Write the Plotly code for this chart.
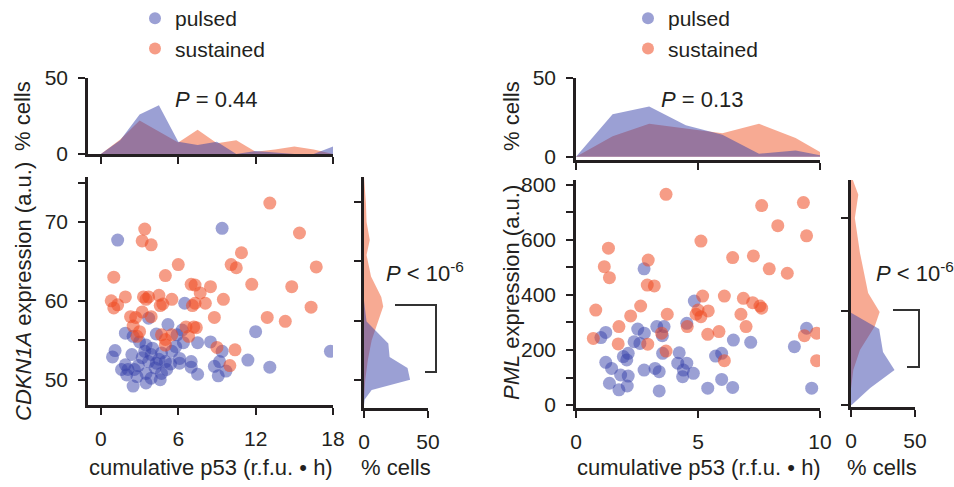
import plotly.graph_objects as go

W, H = 954, 487

# ---------------- data: left panel (CDKN1A) ----------------
left_pulsed_x = [1.3, 9.4, 6.5, 12.0, 17.8, 11.4, 13.1, 9.4, 9.2, 8.8, 9.1, 9.7, 8.5, 7.5, 7.0, 7.0, 7.5,
                 6.1, 6.1, 6.4, 6.3, 5.2, 1.9, 1.1, 0.9, 2.5, 4.3, 3.7, 3.0, 3.5, 2.4, 3.4, 3.9, 4.7, 5.5,
                 3.7, 4.3, 5.0, 1.9, 1.6, 2.1, 2.6, 2.0, 2.8, 3.5, 4.2, 4.7, 5.1, 2.5, 3.5, 4.6, 5.9, 4.0,
                 3.2, 4.5, 2.9, 3.9, 5.4, 5.8]
left_pulsed_y = [67.7, 69.2, 59.7, 56.1, 53.6, 52.5, 51.6, 53.6, 52.3, 51.7, 50.5, 51.1, 54.8, 54.7, 52.3,
                 51.6, 50.7, 52.1, 52.7, 54.7, 56.3, 57.0, 55.9, 53.7, 52.9, 55.5, 55.8, 57.8, 54.8, 54.4,
                 53.2, 53.6, 53.2, 53.4, 53.6, 52.3, 52.1, 52.3, 51.9, 51.3, 51.3, 51.3, 50.6, 50.4, 50.8,
                 51.5, 50.8, 51.3, 49.2, 49.6, 50.0, 55.7, 54.0, 52.8, 52.6, 51.8, 50.2, 52.0, 54.2]
left_sustained_x = [13.1, 15.4, 16.7, 10.9, 10.1, 10.5, 11.7, 14.8, 16.3, 12.9, 14.3, 3.4, 3.2, 3.9, 1.0,
                    6.0, 5.0, 0.8, 1.0, 1.3, 1.9, 3.3, 3.7, 3.5, 4.5, 4.6, 4.8, 5.5, 7.0, 7.3, 7.7, 8.5,
                    9.5, 7.1, 7.3, 8.1, 8.8, 2.3, 2.7, 3.2, 3.9, 2.5, 3.0, 2.8, 4.7, 5.0, 5.0, 5.5, 6.6,
                    7.2, 7.4, 6.8, 9.0, 10.4, 10.0]
left_sustained_y = [72.4, 68.6, 64.3, 66.1, 64.6, 64.2, 62.1, 61.8, 59.2, 57.9, 57.4, 69.1, 67.6, 67.1,
                    63.0, 64.6, 63.2, 60.0, 59.1, 59.5, 60.5, 60.5, 60.5, 60.2, 60.7, 59.4, 59.6, 60.2,
                    62.1, 62.0, 61.0, 61.8, 60.2, 59.4, 59.7, 59.7, 57.9, 58.0, 57.9, 58.6, 58.0, 56.8,
                    56.1, 55.5, 55.7, 55.1, 54.4, 55.7, 56.7, 56.7, 56.6, 55.5, 54.1, 53.8, 51.8]

# top histogram (% cells vs cumulative p53)
left_top_bins = [0, 1.5, 3, 4.5, 6, 7.5, 9, 10.5, 12, 13.5, 15, 16.5, 18]
left_top_pulsed = [0, 9, 26, 32, 8, 6, 8, 0, 2, 1, 0, 0, 5]
left_top_sustained = [0, 9.5, 22, 15, 7.5, 16, 7, 9, 1.5, 3, 5, 3, 0]

# side histogram (% cells vs CDKN1A)
left_side_sustained_level = [75.7, 74.9, 72.4, 70.0, 67.7, 65.8, 63.1, 60.5, 59.3, 57.4, 55.0, 52.5, 50.0, 47.5]
left_side_sustained_pct = [0, 0.5, 1.5, 2, 4.5, 2, 5.5, 13.5, 15, 11, 6, 3, 1, 0]
left_side_pulsed_level = [60.0, 57.4, 54.6, 52.9, 51.5, 50.0, 48.7, 47.5, 46.8]
left_side_pulsed_pct = [0, 2, 19, 20, 34, 36, 6, 0.5, 0]

# ---------------- data: right panel (PML) ----------------
right_pulsed_x = [2.79, 4.85, 4.54, 9.45, 8.95, 6.45, 7.16, 5.72, 5.97, 5.97, 6.42, 5.40, 9.66, 1.02, 1.22,
                  2.53, 2.80, 2.38, 2.62, 3.31, 3.61, 3.54, 4.23, 4.17, 4.54, 4.40, 4.37, 4.81, 1.22, 1.46,
                  1.37, 1.76, 2.10, 1.83, 2.14, 1.94, 2.14, 2.08, 2.79, 3.24, 3.41, 3.41, 3.55]
right_pulsed_y = [495, 378, 297, 279, 212, 236, 228, 178, 188, 93, 64, 61, 61, 245, 264,
                  276, 261, 230, 224, 285, 285, 252, 190, 152, 152, 127, 103, 115, 155, 133,
                  79, 55, 69, 109, 105, 176, 188, 164, 127, 133, 121, 51, 188]
right_sustained_x = [3.69, 7.61, 9.32, 8.27, 9.45, 5.12, 1.33, 1.16, 1.37, 2.96, 6.42, 7.27, 7.92, 8.66,
                     2.92, 3.21, 0.81, 2.65, 2.24, 3.74, 1.76, 0.71, 1.73, 2.94, 3.51, 3.69, 5.19, 6.08,
                     6.86, 7.24, 7.54, 7.61, 4.92, 5.12, 5.42, 5.00, 6.76, 6.97, 4.56, 5.40, 5.86, 6.08,
                     9.36, 9.86, 9.86]
right_sustained_y = [766, 725, 736, 652, 615, 596, 570, 503, 463, 527, 536, 542, 495, 479,
                     436, 433, 345, 360, 324, 330, 285, 242, 222, 221, 261, 196, 396, 396,
                     388, 372, 360, 352, 330, 321, 342, 345, 330, 285, 285, 257, 267, 161,
                     252, 261, 161]

right_top_bins = [0, 1.5, 3, 4.5, 6, 7.5, 9, 10]
right_top_pulsed = [0, 27, 32, 20, 14, 2, 4, 1]
right_top_sustained = [0, 13, 21, 18, 15, 21, 12, 3]

right_side_sustained_level = [836, 764, 680, 553, 407, 338, 285, 200, 127, 60]
right_side_sustained_pct = [0, 5.7, 3, 7, 13.4, 22.4, 18.5, 7, 1.8, 0]
right_side_pulsed_level = [335, 276, 193, 127, 62, 0]
right_side_pulsed_pct = [0, 22, 25, 34, 15, 0.5]

# tick settings
left_x_ticks = [0, 6, 12, 18]
left_y_major = [50, 60, 70]
left_y_minor = [55, 65, 75]
left_side_y_ticks = [50, 57.5, 65, 72.5]
right_x_ticks = [0, 5, 10]
right_y_major = [0, 200, 400, 600, 800]
right_y_minor = [100, 300, 500, 700]
right_side_y_ticks = [0, 340, 680]
pct_ticks = [0, 50]

# ---------------- style ----------------
FONT = "Liberation Sans, Arial, Helvetica, sans-serif"
INK = "#231f20"
FS = 21
FS_TITLE = 22
BLUE_M = "rgba(55,65,170,0.5)"
ORANGE_M = "rgba(238,75,35,0.55)"
BLUE_F = "rgba(55,65,170,0.5)"
ORANGE_F = "rgba(240,85,40,0.5)"
MS = 13


def px_x(p):
    return p / W


def px_y(p):
    return 1 - p / H


fig = go.Figure()

# ---- left panel ----
fig.add_trace(go.Scatter(x=left_pulsed_x, y=left_pulsed_y, mode="markers", name="pulsed",
                         marker=dict(size=MS, color=BLUE_M, line=dict(width=0)),
                         xaxis="x", yaxis="y", legend="legend"))
fig.add_trace(go.Scatter(x=left_sustained_x, y=left_sustained_y, mode="markers", name="sustained",
                         marker=dict(size=MS, color=ORANGE_M, line=dict(width=0)),
                         xaxis="x", yaxis="y", legend="legend"))
fig.add_trace(go.Scatter(x=left_top_bins, y=left_top_sustained, mode="lines", fill="tozeroy",
                         fillcolor=ORANGE_F, line=dict(width=0), showlegend=False, xaxis="x2", yaxis="y2"))
fig.add_trace(go.Scatter(x=left_top_bins, y=left_top_pulsed, mode="lines", fill="tozeroy",
                         fillcolor=BLUE_F, line=dict(width=0), showlegend=False, xaxis="x2", yaxis="y2"))
fig.add_trace(go.Scatter(x=left_side_sustained_pct, y=left_side_sustained_level, mode="lines", fill="tozerox",
                         fillcolor=ORANGE_F, line=dict(width=0), showlegend=False, xaxis="x3", yaxis="y3"))
fig.add_trace(go.Scatter(x=left_side_pulsed_pct, y=left_side_pulsed_level, mode="lines", fill="tozerox",
                         fillcolor=BLUE_F, line=dict(width=0), showlegend=False, xaxis="x3", yaxis="y3"))

# ---- right panel ----
fig.add_trace(go.Scatter(x=right_pulsed_x, y=right_pulsed_y, mode="markers", name="pulsed",
                         marker=dict(size=MS, color=BLUE_M, line=dict(width=0)),
                         xaxis="x4", yaxis="y4", legend="legend2"))
fig.add_trace(go.Scatter(x=right_sustained_x, y=right_sustained_y, mode="markers", name="sustained",
                         marker=dict(size=MS, color=ORANGE_M, line=dict(width=0)),
                         xaxis="x4", yaxis="y4", legend="legend2"))
fig.add_trace(go.Scatter(x=right_top_bins, y=right_top_sustained, mode="lines", fill="tozeroy",
                         fillcolor=ORANGE_F, line=dict(width=0), showlegend=False, xaxis="x5", yaxis="y5"))
fig.add_trace(go.Scatter(x=right_top_bins, y=right_top_pulsed, mode="lines", fill="tozeroy",
                         fillcolor=BLUE_F, line=dict(width=0), showlegend=False, xaxis="x5", yaxis="y5"))
fig.add_trace(go.Scatter(x=right_side_sustained_pct, y=right_side_sustained_level, mode="lines", fill="tozerox",
                         fillcolor=ORANGE_F, line=dict(width=0), showlegend=False, xaxis="x6", yaxis="y6"))
fig.add_trace(go.Scatter(x=right_side_pulsed_pct, y=right_side_pulsed_level, mode="lines", fill="tozerox",
                         fillcolor=BLUE_F, line=dict(width=0), showlegend=False, xaxis="x6", yaxis="y6"))


def ax(**kw):
    base = dict(showline=True, linewidth=2.5, linecolor=INK, ticks="outside", ticklen=7, tickwidth=2,
                tickcolor=INK, showgrid=False, zeroline=False, tickfont=dict(size=FS, color=INK),
                ticklabelstandoff=6, layer="above traces", automargin=False, tickmode="array")
    base.update(kw)
    return base


def minor(vals):
    return dict(tickmode="array", tickvals=vals, ticks="outside", ticklen=7, tickwidth=2,
                tickcolor=INK, showgrid=False)


# domains (pixel based)
L_X = [px_x(88), px_x(333)]
L_SC_Y = [px_y(405), px_y(177)]
L_TOP_Y = [px_y(154), px_y(78)]
L_SIDE_X = [px_x(364), px_x(428)]
L_SIDE_Y = [px_y(408), px_y(177)]
R_X = [px_x(576), px_x(820)]
R_SC_Y = [px_y(408), px_y(180)]
R_TOP_Y = [px_y(160), px_y(78)]
R_SIDE_X = [px_x(851), px_x(915)]
R_SIDE_Y = [px_y(407), px_y(180)]

fig.update_layout(
    template="none",
    width=W, height=H, autosize=False,
    margin=dict(l=0, r=0, t=0, b=0, pad=0, autoexpand=False),
    paper_bgcolor="white", plot_bgcolor="white",
    font=dict(family=FONT, size=FS, color=INK),
    # left scatter
    xaxis=ax(domain=L_X, anchor="y", range=[-1.0, 18.0], tickvals=left_x_ticks),
    yaxis=ax(domain=L_SC_Y, anchor="x", range=[46.8, 75.7], tickvals=left_y_major, minor=minor(left_y_minor)),
    # left top hist
    xaxis2=ax(domain=L_X, anchor="y2", range=[-1.0, 18.0], tickvals=left_x_ticks, showticklabels=False),
    yaxis2=ax(domain=L_TOP_Y, anchor="x2", range=[0, 50], tickvals=pct_ticks),
    # left side hist
    xaxis3=ax(domain=L_SIDE_X, anchor="y3", range=[0, 50], tickvals=pct_ticks),
    yaxis3=ax(domain=L_SIDE_Y, anchor="x3", range=[46.42, 75.7], tickvals=left_side_y_ticks,
              showticklabels=False),
    # right scatter
    xaxis4=ax(domain=R_X, anchor="y4", range=[0, 10], tickvals=right_x_ticks),
    yaxis4=ax(domain=R_SC_Y, anchor="x4", range=[-10.9, 818], tickvals=right_y_major,
              minor=minor(right_y_minor)),
    # right top hist
    xaxis5=ax(domain=R_X, anchor="y5", range=[0, 10], tickvals=right_x_ticks, showticklabels=False),
    yaxis5=ax(domain=R_TOP_Y, anchor="x5", range=[-2, 50], tickvals=pct_ticks),
    # right side hist
    xaxis6=ax(domain=R_SIDE_X, anchor="y6", range=[0, 50], tickvals=pct_ticks),
    yaxis6=ax(domain=R_SIDE_Y, anchor="x6", range=[-7.3, 818], tickvals=right_side_y_ticks,
              showticklabels=False),
    legend=dict(x=px_x(135), y=px_y(-2), xanchor="left", yanchor="top", bgcolor="rgba(0,0,0,0)",
                font=dict(size=FS, color=INK), tracegroupgap=0, itemsizing="constant", borderwidth=0),
    legend2=dict(x=px_x(628), y=px_y(-2), xanchor="left", yanchor="top", bgcolor="rgba(0,0,0,0)",
                 font=dict(size=FS, color=INK), tracegroupgap=0, itemsizing="constant", borderwidth=0),
)

annos = [
    ("<i>CDKN1A</i> expression (a.u.)", 23, 292, -90),
    ("% cells", 23, 116, -90),
    ("<i>PML</i> expression (a.u.)", 511, 292, -90),
    ("% cells", 512, 116, -90),
    ("cumulative p53 (r.f.u. \u2022 h)", 211, 467, 0),
    ("% cells", 396, 467, 0),
    ("cumulative p53 (r.f.u. \u2022 h)", 699, 467, 0),
    ("% cells", 882, 467, 0),
    ("<i>P</i> = 0.44", 216, 100, 0),
    ("<i>P</i> = 0.13", 702, 100, 0),
    ("<i>P</i> < 10<sup>-6</sup>", 425, 272, 0),
    ("<i>P</i> < 10<sup>-6</sup>", 915, 272, 0),
]
for txt, xx, yy, ang in annos:
    fig.add_annotation(text=txt, x=px_x(xx), y=px_y(yy), xref="paper", yref="paper",
                       xanchor="center", yanchor="middle", showarrow=False, textangle=ang,
                       font=dict(size=FS_TITLE, color=INK, family=FONT))

# significance brackets
for (x0, x1, xb, y0, y1) in [(395, 436, 425, 305, 372), (893, 919, 907, 310, 367)]:
    fig.add_shape(type="path", xref="paper", yref="paper",
                  path=f"M {px_x(x0)},{px_y(y0)} L {px_x(x1)},{px_y(y0)} L {px_x(x1)},{px_y(y1)} L {px_x(xb)},{px_y(y1)}",
                  line=dict(color="#333333", width=2))

fig.write_html("out.html")
